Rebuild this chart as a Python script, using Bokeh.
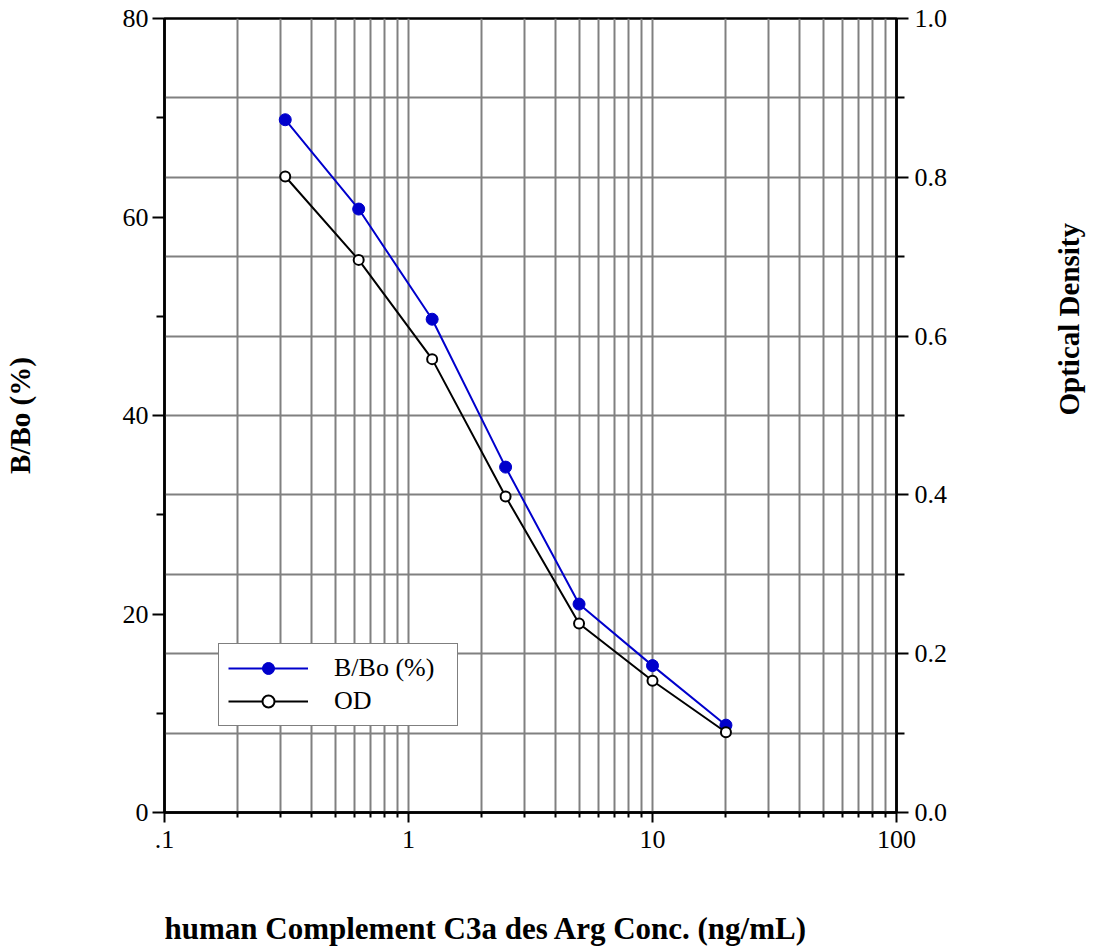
import math
from bokeh.plotting import figure
from bokeh.models import (Range1d, LinearAxis, FixedTicker, Grid, Legend, LegendItem,
                          CustomJSTickFormatter, PrintfTickFormatter, Title)
from bokeh.embed import file_html
from bokeh.resources import INLINE

conc = [0.3125, 0.625, 1.25, 2.5, 5, 10, 20]
bbo = [69.8, 60.8, 49.7, 34.8, 21.0, 14.8, 8.8]
od = [0.801, 0.696, 0.571, 0.398, 0.238, 0.166, 0.101]

x_major = [0.1, 1, 10, 100]
x_minor = [m * d for d in [0.1, 1, 10] for m in range(2, 10)]
left_major = [0, 20, 40, 60, 80]
left_minor = [10, 30, 50, 70]
right_major = [0.0, 0.2, 0.4, 0.6, 0.8, 1.0]
right_minor = [0.1, 0.3, 0.5, 0.7, 0.9]
hgrid = [0.1, 0.2, 0.3, 0.4, 0.5, 0.6, 0.7, 0.8, 0.9]

FONT = "Liberation Serif"
TICK_FS = "26px"
LABEL_FS = "29px"

p = figure(frame_width=732, frame_height=794, x_axis_type="log",
           x_range=Range1d(0.1, 100), y_range=Range1d(0, 80),
           output_backend="svg", toolbar_location=None,
           min_border_left=157, min_border_right=189, min_border_top=18,
           min_border_bottom=128)
p.background_fill_color = "white"
p.border_fill_color = "white"
p.outline_line_color = "black"
p.outline_line_width = 2.5

p.extra_y_ranges = {"od": Range1d(0, 1)}

# grids
p.xgrid.ticker = FixedTicker(ticks=x_minor + [1, 10])
p.xgrid.grid_line_color = "#808080"
p.xgrid.grid_line_width = 2
p.ygrid.visible = False
hg = Grid(dimension=1, ticker=FixedTicker(ticks=hgrid), y_range_name="od",
          grid_line_color="#808080", grid_line_width=2)
p.add_layout(hg)

# x axis
xa = p.xaxis[0]
xa.ticker = FixedTicker(ticks=x_major, minor_ticks=x_minor)
xa.formatter = CustomJSTickFormatter(code="return tick < 1 ? '.1' : String(Math.round(tick));")
xa.axis_line_width = 2.5
xa.major_tick_line_width = 2
xa.minor_tick_line_width = 2
xa.major_tick_out = 10
xa.major_tick_in = 0
xa.minor_tick_out = 5
xa.minor_tick_in = 0
xa.major_label_standoff = 8
xa.major_label_text_font = FONT
xa.major_label_text_font_size = TICK_FS
xa.major_label_text_color = "black"

# left y axis
ya = p.yaxis[0]
ya.ticker = FixedTicker(ticks=left_major, minor_ticks=left_minor)
ya.axis_line_width = 2.5
ya.major_tick_line_width = 2
ya.minor_tick_line_width = 2
ya.major_tick_out = 12
ya.major_tick_in = 0
ya.minor_tick_out = 8
ya.minor_tick_in = 0
ya.major_label_standoff = 4
ya.major_label_text_font = FONT
ya.major_label_text_font_size = TICK_FS
ya.major_label_text_color = "black"
ya.axis_label = "B/Bo (%)"
ya.axis_label_text_font = FONT
ya.axis_label_text_font_size = LABEL_FS
ya.axis_label_text_font_style = "bold"
ya.axis_label_text_color = "black"
ya.axis_label_standoff = 84

# right y axis
ra = LinearAxis(y_range_name="od", ticker=FixedTicker(ticks=right_major, minor_ticks=right_minor),
                formatter=PrintfTickFormatter(format="%.1f"))
ra.axis_line_width = 2.5
ra.major_tick_line_width = 2
ra.minor_tick_line_width = 2
ra.major_tick_out = 12
ra.major_tick_in = 0
ra.minor_tick_out = 8
ra.minor_tick_in = 0
ra.major_label_standoff = 6
ra.major_label_text_font = FONT
ra.major_label_text_font_size = TICK_FS
ra.major_label_text_color = "black"
ra.axis_label = "Optical Density"
ra.axis_label_orientation = math.pi / 2
ra.axis_label_text_font = FONT
ra.axis_label_text_font_size = LABEL_FS
ra.axis_label_text_font_style = "bold"
ra.axis_label_text_color = "black"
ra.axis_label_standoff = 119
p.add_layout(ra, "right")

# x label as bottom title
t = Title(text="human Complement C3a des Arg Conc. (ng/mL)", align="left",
          text_font=FONT, text_font_size="31px", text_font_style="bold",
          text_color="black", standoff=117)
p.add_layout(t, "below")

# data
BLUE = "#0000cc"
l1 = p.line(conc, bbo, line_color=BLUE, line_width=2)
s1 = p.scatter(conc, bbo, size=12, fill_color=BLUE, line_color=BLUE)
l2 = p.line(conc, od, line_color="black", line_width=2, y_range_name="od")
s2 = p.scatter(conc, od, size=10, fill_color="white", line_color="black",
               line_width=2, y_range_name="od")

legend = Legend(items=[LegendItem(label="B/Bo (%)", renderers=[l1, s1]),
                       LegendItem(label="OD", renderers=[l2, s2])],
                location=(54, 86))
legend.border_line_color = "black"
legend.border_line_width = 1.5
legend.background_fill_alpha = 1
legend.glyph_width = 80
legend.glyph_height = 30
legend.label_height = 30
legend.label_standoff = 26
legend.spacing = 3
legend.padding = 9
legend.margin = 0
legend.label_text_font = FONT
legend.label_text_font_size = "26px"
legend.label_text_color = "black"
legend.label_width = 114
p.add_layout(legend, "center")

open("out.html", "w").write(file_html(p, INLINE))
